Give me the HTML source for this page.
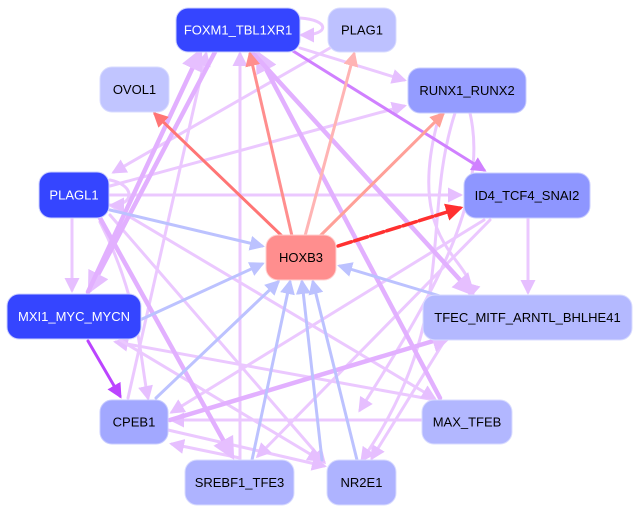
<!DOCTYPE html>
<html><head><meta charset="utf-8"><style>
html,body{margin:0;padding:0;background:#fff;}
svg{display:block;font-family:"Liberation Sans",sans-serif;}
</style></head><body>
<svg width="639" height="512" viewBox="0 0 639 512" xmlns="http://www.w3.org/2000/svg">
<defs>
<marker id="lv" markerWidth="5" markerHeight="5" refX="4" refY="2.5" orient="auto" markerUnits="strokeWidth"><path d="M0,0L5,2.5L0,5z" fill="#e6bfff"/></marker>
<marker id="bl" markerWidth="5" markerHeight="5" refX="4" refY="2.5" orient="auto" markerUnits="strokeWidth"><path d="M0,0L5,2.5L0,5z" fill="#bcc2ff"/></marker>
<marker id="vi" markerWidth="5" markerHeight="5" refX="4" refY="2.5" orient="auto" markerUnits="strokeWidth"><path d="M0,0L5,2.5L0,5z" fill="#d080ff"/></marker>
<marker id="vd" markerWidth="5" markerHeight="5" refX="4" refY="2.5" orient="auto" markerUnits="strokeWidth"><path d="M0,0L5,2.5L0,5z" fill="#bb44ff"/></marker>
<marker id="r1" markerWidth="5" markerHeight="5" refX="4" refY="2.5" orient="auto" markerUnits="strokeWidth"><path d="M0,0L5,2.5L0,5z" fill="#ff7575"/></marker>
<marker id="r2" markerWidth="5" markerHeight="5" refX="4" refY="2.5" orient="auto" markerUnits="strokeWidth"><path d="M0,0L5,2.5L0,5z" fill="#ff8e8e"/></marker>
<marker id="r3" markerWidth="5" markerHeight="5" refX="4" refY="2.5" orient="auto" markerUnits="strokeWidth"><path d="M0,0L5,2.5L0,5z" fill="#ffb4b4"/></marker>
<marker id="r4" markerWidth="5" markerHeight="5" refX="4" refY="2.5" orient="auto" markerUnits="strokeWidth"><path d="M0,0L5,2.5L0,5z" fill="#ffa098"/></marker>
<marker id="r5" markerWidth="5" markerHeight="5" refX="4" refY="2.5" orient="auto" markerUnits="strokeWidth"><path d="M0,0L5,2.5L0,5z" fill="#ff3030"/></marker>
</defs>
<g fill="none" stroke-linecap="round">
<g stroke="#ebc8ff" stroke-width="3" marker-end="url(#lv)">
<line x1="72" y1="218" x2="72" y2="290"/>
<line x1="110" y1="195" x2="460" y2="195"/>
<line x1="110" y1="186" x2="404" y2="106"/>
<line x1="330" y1="48" x2="114" y2="172"/>
<line x1="110" y1="215" x2="324" y2="462"/>
<line x1="300" y1="48" x2="404" y2="80"/>
<line x1="240" y1="460" x2="240" y2="54"/>
<line x1="128" y1="398" x2="206" y2="54"/>
<line x1="435" y1="400" x2="116" y2="342"/>
<line x1="422" y1="420" x2="172" y2="420"/>
<line x1="168" y1="430" x2="324" y2="466"/>
<line x1="240" y1="458" x2="172" y2="444"/>
<line x1="484" y1="220" x2="172" y2="412"/>
<line x1="490" y1="220" x2="258" y2="456"/>
<line x1="528" y1="218" x2="528" y2="292"/>
<line x1="445" y1="340" x2="372" y2="458"/>
<line x1="110" y1="205" x2="434" y2="398"/>
<line x1="120" y1="340" x2="320" y2="460"/>
<path d="M455 113 C420 220 460 320 362 460"/>
<path d="M470 113 C490 200 430 300 360 410"/>
<path d="M100 222 C140 300 140 360 148 398"/>
<path d="M440 113 C400 250 480 260 470 296"/>
<path d="M110 180 C135 185 135 205 112 205"/>
<path d="M300 18 C330 20 330 35 302 35"/>
</g>
<g stroke="#e2b0ff" stroke-width="4.5" marker-end="url(#lv)">
<line x1="215" y1="52" x2="90" y2="290"/>
<line x1="100" y1="218" x2="232" y2="456"/>
<line x1="440" y1="398" x2="258" y2="54"/>
<line x1="252" y1="52" x2="472" y2="293"/>
<line x1="170" y1="420" x2="450" y2="336"/>
<line x1="88" y1="292" x2="200" y2="52"/>
</g>
<g stroke="#bcc2ff" stroke-width="3" marker-end="url(#bl)">
<line x1="110" y1="210" x2="262" y2="246"/>
<line x1="140" y1="320" x2="262" y2="264"/>
<line x1="156" y1="398" x2="278" y2="282"/>
<line x1="252" y1="460" x2="290" y2="282"/>
<line x1="357" y1="460" x2="313" y2="282"/>
<line x1="322" y1="460" x2="302" y2="282"/>
<line x1="440" y1="296" x2="340" y2="266"/>
</g>
<line x1="285" y1="46" x2="484" y2="170" stroke="#d080ff" stroke-width="3" marker-end="url(#vi)"/>
<line x1="88" y1="341" x2="120" y2="396" stroke="#bb44ff" stroke-width="3" marker-end="url(#vd)"/>
<line x1="282" y1="236" x2="155" y2="114" stroke="#ff7575" stroke-width="3" marker-end="url(#r1)"/>
<line x1="292" y1="236" x2="250" y2="54" stroke="#ff8e8e" stroke-width="3" marker-end="url(#r2)"/>
<line x1="305" y1="236" x2="354" y2="54" stroke="#ffb4b4" stroke-width="3" marker-end="url(#r3)"/>
<line x1="320" y1="236" x2="443" y2="114" stroke="#ffa098" stroke-width="3" marker-end="url(#r4)"/>
<line x1="338" y1="246" x2="460" y2="208" stroke="#ff3030" stroke-width="3.5" stroke-dasharray="14,3" marker-end="url(#r5)"/>
</g>
<g font-size="13" text-anchor="middle" dominant-baseline="central">
<rect x="176" y="8" width="124" height="44" rx="12" fill="#3545ff" stroke="#ccd0ff"/><text x="238" y="30" fill="#fff">FOXM1_TBL1XR1</text>
<rect x="328" y="8" width="68" height="44" rx="12" fill="#bdc1ff" stroke="#d8dbff"/><text x="362" y="30">PLAG1</text>
<rect x="100" y="67" width="69" height="45" rx="12" fill="#c1c5ff" stroke="#d8dbff"/><text x="134.5" y="89.5">OVOL1</text>
<rect x="408" y="68" width="118" height="45" rx="12" fill="#949cff" stroke="#c8ccff"/><text x="467" y="90.5">RUNX1_RUNX2</text>
<rect x="39" y="172" width="70" height="46" rx="12" fill="#3545ff" stroke="#ccd0ff"/><text x="74" y="195" fill="#fff">PLAGL1</text>
<rect x="464" y="173" width="126" height="45" rx="12" fill="#8e96ff" stroke="#c8ccff"/><text x="527" y="195.5">ID4_TCF4_SNAI2</text>
<rect x="266" y="235" width="70" height="45" rx="12" fill="#ff8e8e" stroke="#ffd0d0"/><text x="301" y="257.5">HOXB3</text>
<rect x="7" y="294" width="134" height="45" rx="12" fill="#3545ff" stroke="#ccd0ff"/><text x="74" y="316.5" fill="#fff">MXI1_MYC_MYCN</text>
<rect x="423" y="295" width="209" height="45" rx="12" fill="#b4b9ff" stroke="#d8dbff"/><text x="527.5" y="317.5">TFEC_MITF_ARNTL_BHLHE41</text>
<rect x="100" y="400" width="68" height="44" rx="12" fill="#a2a8ff" stroke="#c8ccff"/><text x="134" y="422">CPEB1</text>
<rect x="422" y="400" width="90" height="44" rx="12" fill="#b2b7ff" stroke="#d8dbff"/><text x="467" y="422">MAX_TFEB</text>
<rect x="185" y="460" width="109" height="45" rx="12" fill="#aeb3ff" stroke="#d8dbff"/><text x="239.5" y="482.5">SREBF1_TFE3</text>
<rect x="327" y="460" width="69" height="45" rx="12" fill="#aeb3ff" stroke="#d8dbff"/><text x="361.5" y="482.5">NR2E1</text>
</g>
</svg>
</body></html>
